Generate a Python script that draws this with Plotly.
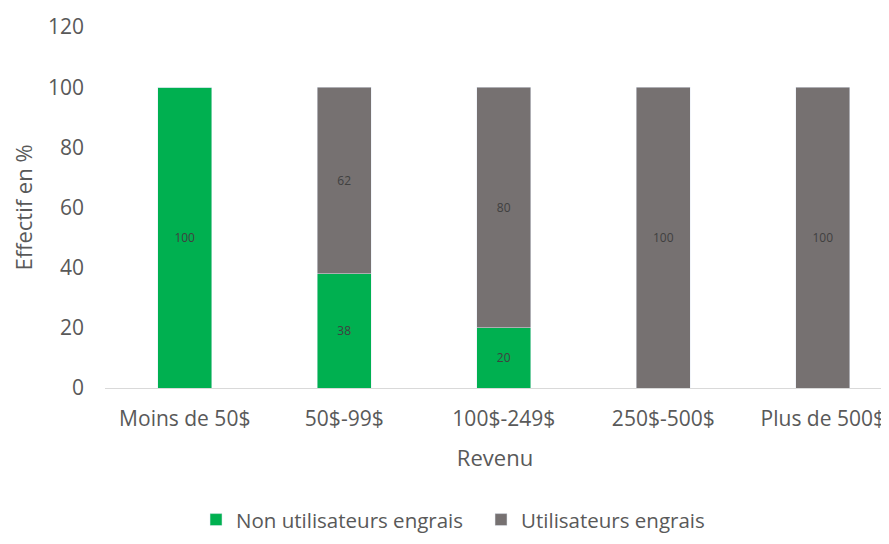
import plotly.graph_objects as go

categories = ["Moins de 50$", "50$-99$", "100$-249$", "250$-500$", "Plus de 500$"]
non_utilisateurs = [100, 38, 20, 0, 0]
utilisateurs = [0, 62, 80, 100, 100]
y_ticks = [0, 20, 40, 60, 80, 100, 120]

def labels(vals):
    return [str(v) if v else "" for v in vals]

fig = go.Figure()
fig.add_trace(go.Bar(
    name="Non utilisateurs engrais", x=categories, y=non_utilisateurs,
    marker_color="#00B050", width=0.34,
    text=labels(non_utilisateurs), textposition="inside", insidetextanchor="middle",
    textfont=dict(color="#404040", size=12), textangle=0,
))
fig.add_trace(go.Bar(
    name="Utilisateurs engrais", x=categories, y=utilisateurs,
    marker_color="#767171", width=0.34,
    text=labels(utilisateurs), textposition="inside", insidetextanchor="middle",
    textfont=dict(color="#404040", size=12), textangle=0,
))

fig.update_layout(
    barmode="stack",
    width=889, height=544,
    margin=dict(l=97, r=12, t=19, b=159),
    plot_bgcolor="white", paper_bgcolor="white",
    font=dict(family="Open Sans, Liberation Sans, sans-serif", color="#595959", size=21),
    uniformtext=dict(mode="show", minsize=12),
    xaxis=dict(
        range=[-0.5, 4.39], showgrid=False, showline=False, ticks="",
        automargin=False,
        title=dict(text="Revenu", font=dict(size=22, color="#595959"), standoff=19),
        tickfont=dict(size=21), ticklabelstandoff=16,
    ),
    yaxis=dict(
        range=[0, 120], tickvals=y_ticks, showgrid=False, zeroline=True,
        automargin=False,
        zerolinecolor="#D9D9D9", zerolinewidth=1, showline=False, ticks="",
        title=dict(text="Effectif en %", font=dict(size=22, color="#595959"), standoff=16),
        tickfont=dict(size=21), ticklabelstandoff=20,
    ),
    legend=dict(
        orientation="h", x=0.1167, xanchor="left", y=-0.365, yanchor="middle",
        font=dict(size=20.5, color="#595959"), traceorder="normal",
        entrywidth=240,
    ),
    bargap=0.66,
)

fig.write_html("out.html")
